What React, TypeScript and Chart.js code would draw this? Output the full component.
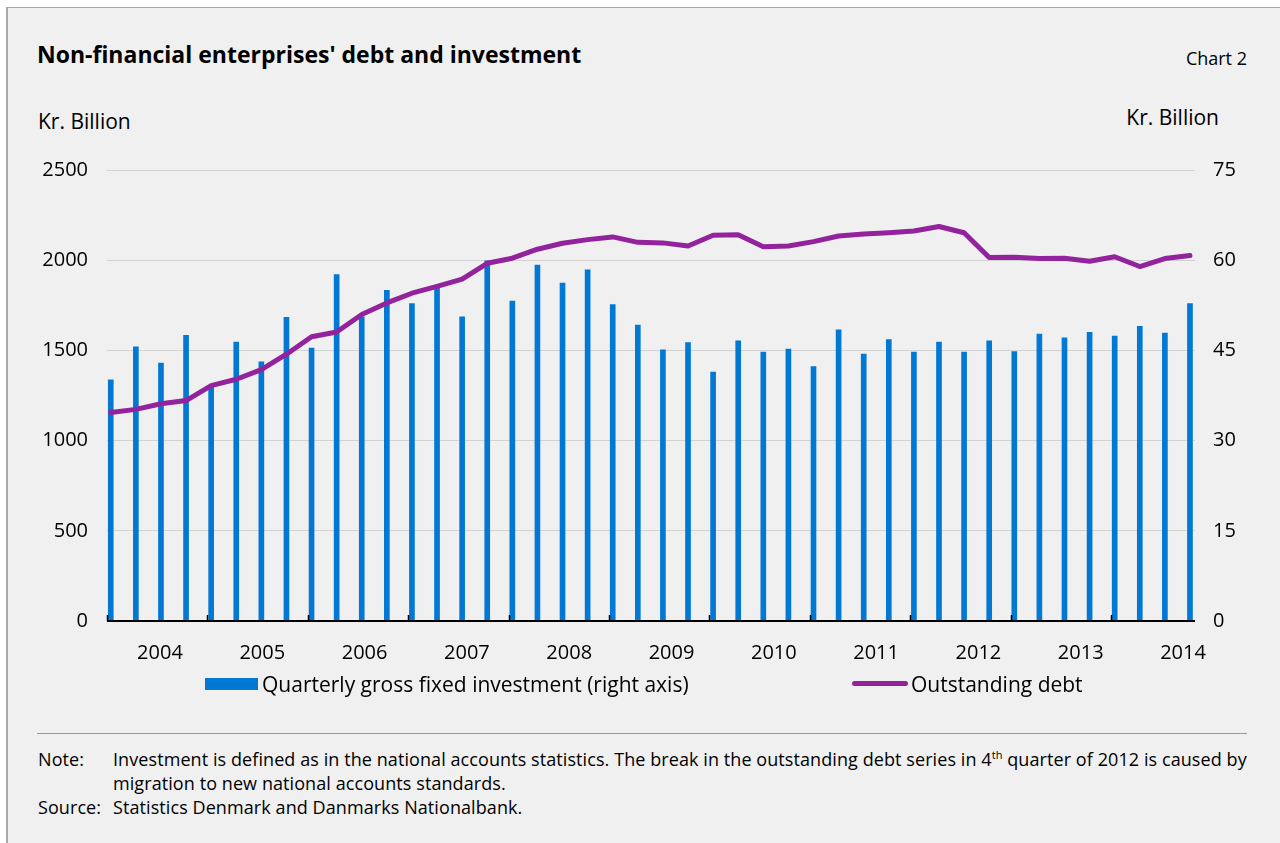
import { useEffect, useRef } from "react"
import { Chart, registerables, type ChartConfiguration } from "chart.js"

Chart.register(...registerables)

// x axis: years, one bar/point per quarter
const years = ["2004", "2005", "2006", "2007", "2008", "2009", "2010", "2011", "2012", "2013", "2014"]
const quarters = years.flatMap((y) => ["Q1", "Q2", "Q3", "Q4"].map((q) => `${y}${q}`))

// Quarterly gross fixed investment, kr. billion (right axis)
const investment = [
  40.1, 45.6, 42.9, 47.5, 38.9, 46.4, 43.1, 50.5, 45.4, 57.6,
  50.6, 55.0, 52.8, 55.7, 50.6, 59.9, 53.2, 59.2, 56.2, 58.4,
  52.6, 49.2, 45.1, 46.3, 41.4, 46.6, 44.7, 45.2, 42.3, 48.4,
  44.4, 46.8, 44.7, 46.4, 44.7, 46.6, 44.8, 47.7, 47.1, 48.0,
  47.4, 49.0, 47.9, 52.8,
]

// Outstanding debt, kr. billion (left axis)
const debt = [
  1156, 1173, 1204, 1222, 1305, 1340, 1393, 1479, 1576, 1602,
  1699, 1763, 1817, 1855, 1895, 1983, 2011, 2061, 2094, 2114,
  2129, 2099, 2096, 2079, 2138, 2141, 2075, 2079, 2103, 2134,
  2145, 2152, 2162, 2187, 2152, 2015, 2017, 2009, 2011, 1994,
  2019, 1965, 2009, 2026,
]

const leftTicks = [0, 500, 1000, 1500, 2000, 2500]
const rightTicks = [0, 15, 30, 45, 60, 75]

const BLUE = "#0078d4"
const PURPLE = "#93239c"
const FONT = "'Open Sans', 'Noto Sans', sans-serif"

// quarter index range shown on the axis (first year tick sits at X_MIN)
const X_MIN = -0.15
const X_MAX = 43.2

// baseline and year boundary tick marks drawn inward from it
const yearTicks = {
  id: "yearTicks",
  afterDatasetsDraw(chart: Chart) {
    const { ctx, chartArea } = chart
    const x = chart.scales.x
    ctx.save()
    ctx.strokeStyle = "#000"
    ctx.lineWidth = 2
    ctx.beginPath()
    ctx.moveTo(chartArea.left, chartArea.bottom)
    ctx.lineTo(chartArea.right, chartArea.bottom)
    ctx.stroke()
    ctx.lineWidth = 1.5
    for (let k = 0; k < years.length; k++) {
      const px = Math.round(x.getPixelForValue(X_MIN + 4 * k)) + 0.5
      ctx.beginPath()
      ctx.moveTo(px, chartArea.bottom)
      ctx.lineTo(px, chartArea.bottom - 6)
      ctx.stroke()
    }
    ctx.restore()
  },
}

function DebtChart() {
  const canvasRef = useRef<HTMLCanvasElement | null>(null)

  useEffect(() => {
    if (!canvasRef.current) return
    Chart.defaults.font.family = FONT
    Chart.defaults.color = "#000"

    const config = {
      type: "bar",
      data: {
        labels: quarters,
        datasets: [
          {
            type: "line",
            label: "Outstanding debt",
            data: debt.map((v, i) => ({ x: i, y: v })),
            xAxisID: "x",
            yAxisID: "y",
            borderColor: PURPLE,
            borderWidth: 5,
            pointRadius: 0,
            tension: 0,
            borderJoinStyle: "round",
            borderCapStyle: "round",
            order: 0,
          },
          {
            type: "bar",
            label: "Quarterly gross fixed investment (right axis)",
            data: investment.map((v, i) => ({ x: i, y: v })),
            xAxisID: "x",
            yAxisID: "y1",
            backgroundColor: BLUE,
            barThickness: 5,
            order: 1,
          },
        ],
      },
      options: {
        responsive: false,
        animation: false,
        layout: { padding: { top: 28, left: 0, right: 0, bottom: 0 } },
        plugins: { legend: { display: false }, tooltip: { enabled: false } },
        scales: {
          x: {
            type: "linear",
            display: false,
            offset: false,
            min: X_MIN,
            max: X_MAX,
            grid: { offset: false },
          },
          xYears: {
            type: "linear",
            position: "bottom",
            offset: false,
            min: -0.518,
            max: 10.117,
            grid: { display: false, drawTicks: false },
            border: { display: false },
            afterBuildTicks: (scale: any) => {
              scale.ticks = years.map((_, i) => ({ value: i }))
            },
            afterFit: (scale: any) => {
              scale.height = 58
            },
            ticks: {
              autoSkip: false,
              maxRotation: 0,
              padding: 20,
              font: { size: 20 },
              callback: (v: any) => years[Math.round(Number(v))],
            },
          },
          y: {
            position: "left",
            min: 0,
            max: 2500,
            afterBuildTicks: (scale: any) => {
              scale.ticks = leftTicks.map((v) => ({ value: v }))
            },
            afterFit: (scale: any) => {
              scale.width = 107
            },
            grid: { color: "#d2d2d2", lineWidth: 1, drawTicks: false },
            border: { display: false },
            ticks: { padding: 19, font: { size: 20 }, callback: (v: any) => String(v) },
          },
          y1: {
            position: "right",
            min: 0,
            max: 75,
            afterBuildTicks: (scale: any) => {
              scale.ticks = rightTicks.map((v) => ({ value: v }))
            },
            afterFit: (scale: any) => {
              scale.width = 85
            },
            grid: { drawOnChartArea: false, drawTicks: false },
            border: { display: false },
            ticks: { padding: 18, font: { size: 20 }, callback: (v: any) => String(v) },
          },
        },
      },
      plugins: [yearTicks],
    } as unknown as ChartConfiguration

    const chart = new Chart(canvasRef.current, config)
    return () => chart.destroy()
  }, [])

  return (
    <canvas
      ref={canvasRef}
      width={1280}
      height={540}
      style={{ position: "absolute", left: 0, top: 139, width: 1280, height: 540 }}
    />
  )
}

export default function App() {
  const text = { position: "absolute" as const, whiteSpace: "nowrap" as const, color: "#000" }
  const note = { ...text, fontSize: 18, lineHeight: "24px", letterSpacing: "0.08px" }
  return (
    <div
      style={{
        position: "absolute",
        left: 0,
        top: 0,
        width: 1280,
        height: 843,
        overflow: "hidden",
        background: "#fff",
        fontFamily: FONT,
      }}
    >
      <div
        style={{
          position: "absolute",
          left: 6,
          top: 7,
          right: 0,
          bottom: 0,
          background: "#f0f0f0",
          borderLeft: "2px solid #a9a9a9",
          borderTop: "1px solid #a9a9a9",
        }}
      />
      <div style={{ ...text, left: 37, top: 39, fontSize: 23, lineHeight: "30px", fontWeight: 700 }}>
        Non-financial enterprises' debt and investment
      </div>
      <div style={{ ...text, right: 33, top: 47, fontSize: 18, lineHeight: "22px" }}>Chart 2</div>
      <div style={{ ...text, left: 38, top: 108, fontSize: 21, lineHeight: "26px" }}>Kr. Billion</div>
      <div style={{ ...text, right: 61, top: 104, fontSize: 21, lineHeight: "26px" }}>Kr. Billion</div>

      <DebtChart />

      {/* legend */}
      <div style={{ position: "absolute", left: 205, top: 678, width: 53, height: 12, background: BLUE }} />
      <div style={{ ...text, left: 262, top: 671, fontSize: 21, lineHeight: "26px" }}>
        Quarterly gross fixed investment (right axis)
      </div>
      <div
        style={{
          position: "absolute",
          left: 852,
          top: 681,
          width: 56,
          height: 5,
          borderRadius: 3,
          background: PURPLE,
        }}
      />
      <div style={{ ...text, left: 911, top: 671, fontSize: 21, lineHeight: "26px" }}>Outstanding debt</div>

      <div style={{ position: "absolute", left: 37, top: 733, width: 1210, height: 1, background: "#9a9a9a" }} />

      <div style={{ ...note, left: 38, top: 747 }}>Note:</div>
      <div style={{ ...note, left: 113, top: 747 }}>
        Investment is defined as in the national accounts statistics. The break in the outstanding debt series in 4
        <sup style={{ fontSize: 11, lineHeight: 0 }}>th</sup> quarter of 2012 is caused by
      </div>
      <div style={{ ...note, left: 113, top: 771 }}>migration to new national accounts standards.</div>
      <div style={{ ...note, left: 38, top: 795 }}>Source:</div>
      <div style={{ ...note, left: 113, top: 795 }}>Statistics Denmark and Danmarks Nationalbank.</div>
    </div>
  )
}
